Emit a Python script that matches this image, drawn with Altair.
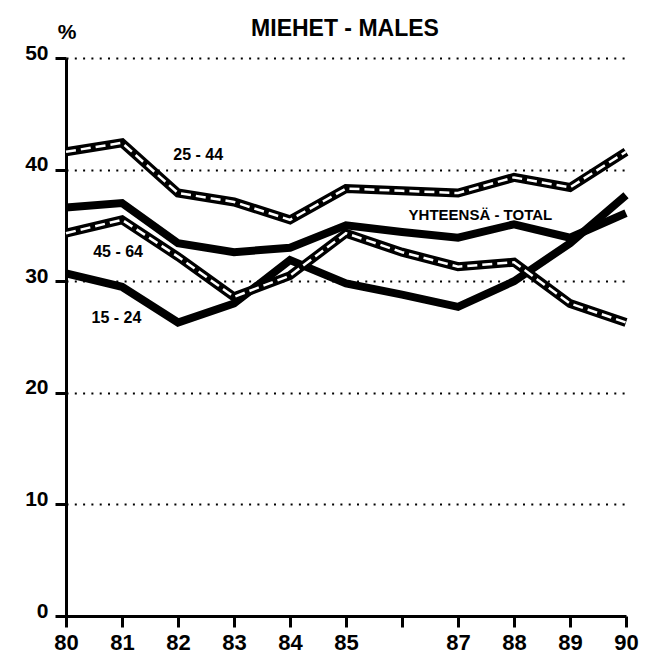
import altair as alt
import pandas as pd

# ---- data ----
years = [80, 81, 82, 83, 84, 85, 86, 87, 88, 89, 90]
total = [36.6, 37.0, 33.4, 32.6, 33.0, 35.0, 34.4, 33.9, 35.1, 33.9, 36.1]
age_15_24 = [30.7, 29.5, 26.3, 28.0, 31.9, 29.8, 28.8, 27.7, 30.0, 33.4, 37.7]
age_25_44 = [41.6, 42.4, 37.9, 37.1, 35.5, 38.3, 38.1, 37.9, 39.3, 38.4, 41.6]
age_45_64 = [34.3, 35.5, 32.2, 28.6, 30.5, 34.3, 32.6, 31.3, 31.7, 28.0, 26.3]

y_ticks = [0, 10, 20, 30, 40, 50]
title_text = "MIEHET - MALES"
unit_text = "%"

label_texts = ["25 - 44", "45 - 64", "15 - 24", "YHTEENSÄ - TOTAL"]
label_x = [82.36, 80.93, 80.9, 87.4]
label_y = [41.3, 32.6, 26.7, 35.9]
label_size = [16, 16, 16, 15]

rows = []
for name, vals in [("YHTEENSÄ - TOTAL", total), ("15 - 24", age_15_24),
                   ("25 - 44", age_25_44), ("45 - 64", age_45_64)]:
    for yr, v in zip(years, vals):
        rows.append({"year": yr, "value": v, "series": name})
df = pd.DataFrame(rows)

labels_df = pd.DataFrame({"text": label_texts, "x": label_x, "y": label_y, "size": label_size})

FONT = "Liberation Sans"

x_enc = alt.X(
    "year:Q",
    scale=alt.Scale(domain=[80, 90], nice=False, zero=False),
    axis=alt.Axis(
        values=years, format="d", title=None, grid=False,
        labelExpr="datum.value == 86 ? '' : datum.label",
        tickSize=11, tickWidth=3, tickColor="black",
        domainWidth=3, domainColor="black",
        labelFont=FONT, labelFontSize=22, labelFontWeight="bold", labelColor="black",
        labelPadding=5, labelFlush=False,
    ),
)
y_enc = alt.Y(
    "value:Q",
    scale=alt.Scale(domain=[0, 50], nice=False),
    axis=alt.Axis(
        values=y_ticks, title=None, grid=True,
        gridDash=[2, 6.3], gridWidth=2, gridColor="black", gridOpacity=1,
        tickSize=11, tickWidth=3, tickColor="black",
        domainWidth=3, domainColor="black",
        labelFont=FONT, labelFontSize=21, labelFontWeight="bold", labelColor="black",
        labelPadding=7, labelBaseline="alphabetic", labelOffset=1, labelFlush=False,
    ),
)

base = alt.Chart(df)

solid = base.transform_filter(
    alt.FieldOneOfPredicate(field="series", oneOf=["YHTEENSÄ - TOTAL", "15 - 24"])
).mark_line(color="black", strokeWidth=8).encode(x=x_enc, y=y_enc, detail="series:N")

double_outer = base.transform_filter(
    alt.FieldOneOfPredicate(field="series", oneOf=["25 - 44", "45 - 64"])
).mark_line(color="black", strokeWidth=9).encode(x="year:Q", y="value:Q", detail="series:N")

double_inner = base.transform_filter(
    alt.FieldOneOfPredicate(field="series", oneOf=["25 - 44", "45 - 64"])
).mark_line(color="white", strokeWidth=2.5, strokeDash=[10, 5]).encode(
    x="year:Q", y="value:Q", detail="series:N")

series_labels = alt.Chart(labels_df).mark_text(
    font=FONT, fontWeight="bold", color="black", align="center", baseline="middle"
).encode(x="x:Q", y="y:Q", text="text:N", size=alt.Size("size:Q", scale=None, legend=None))

one = pd.DataFrame({"t": [title_text], "u": [unit_text]})
title_mark = alt.Chart(one).mark_text(
    font=FONT, fontWeight="bold", fontSize=23, color="black", align="center", baseline="middle"
).encode(text="t:N", x=alt.value(279), y=alt.value(-29.5))
unit_mark = alt.Chart(one).mark_text(
    font=FONT, fontWeight="bold", fontSize=21, color="black", align="center", baseline="middle"
).encode(text="u:N", x=alt.value(1), y=alt.value(-25))

chart = alt.layer(
    solid, double_outer, double_inner, series_labels, title_mark, unit_mark
).properties(
    width=560, height=558,
    padding={"left": 58, "top": 50, "right": 13, "bottom": 37},
    autosize=alt.AutoSizeParams(type="none"),
    background="white",
).configure_view(stroke=None)

chart.save("out.html", embed_options={"renderer": "svg", "actions": False})
